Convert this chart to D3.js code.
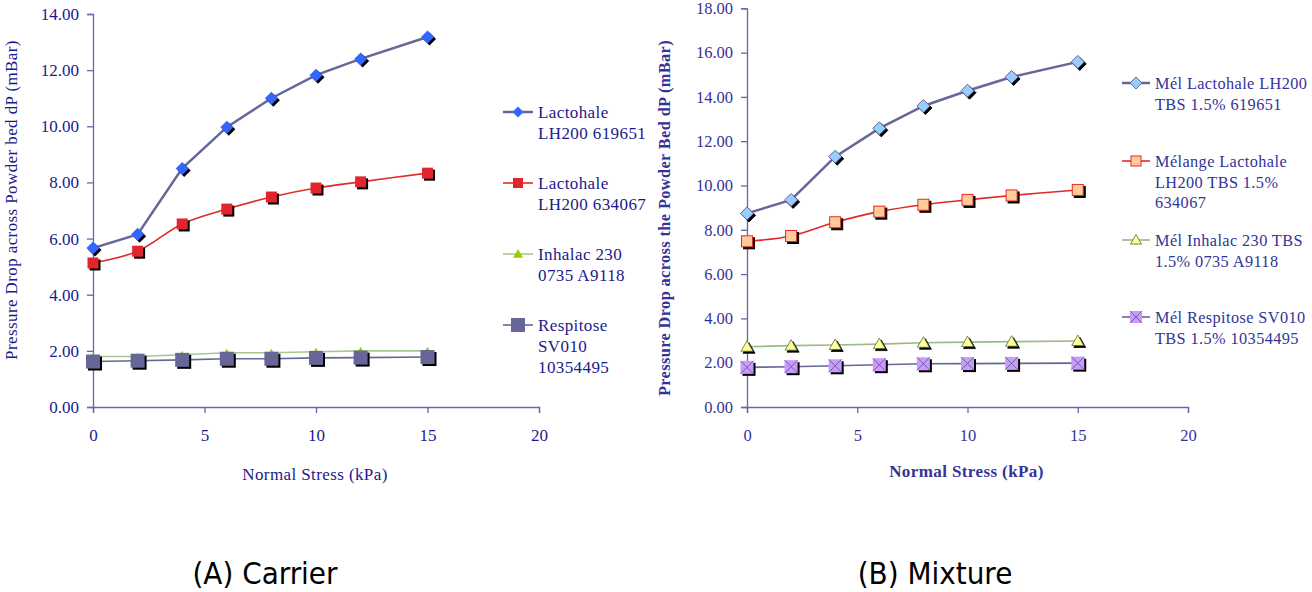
<!DOCTYPE html>
<html><head><meta charset="utf-8">
<script src="https://cdn.jsdelivr.net/npm/d3@7"></script>
<style>body{margin:0;background:#fff}svg{display:block}</style>
</head><body>
<svg id="c" width="1312" height="592"></svg>
<script>
// ---------- data ----------
const stress = [0, 2, 4, 6, 8, 10, 12, 15];
const xTicks = [0, 5, 10, 15, 20];

// (A) Carrier
const carrierNames = [["Lactohale","LH200 619651"],["Lactohale","LH200 634067"],["Inhalac 230","0735 A9118"],["Respitose","SV010","10354495"]];
const lh619651 = [5.66, 6.15, 8.5, 9.97, 11.0, 11.82, 12.4, 13.18];
const lh634067 = [5.13, 5.55, 6.52, 7.05, 7.48, 7.8, 8.02, 8.33];
const inhalac230 = [1.8, 1.8, 1.86, 1.93, 1.93, 1.97, 2.0, 2.0];
const respitose = [1.62, 1.65, 1.68, 1.72, 1.72, 1.75, 1.76, 1.78];
const carrierYTicks = [0, 2, 4, 6, 8, 10, 12, 14];

// (B) Mixture
const mixtureNames = [["Mél Lactohale LH200","TBS 1.5% 619651"],["Mélange Lactohale","LH200 TBS 1.5%","634067"],["Mél Inhalac 230 TBS","1.5% 0735 A9118"],["Mél Respitose SV010","TBS 1.5% 10354495"]];
const melLh619651 = [8.74, 9.35, 11.3, 12.58, 13.59, 14.28, 14.9, 15.58];
const melLh634067 = [7.48, 7.72, 8.34, 8.82, 9.13, 9.35, 9.55, 9.8];
const melInhalac = [2.72, 2.77, 2.8, 2.84, 2.9, 2.93, 2.95, 2.98];
const melRespitose = [1.79, 1.82, 1.86, 1.91, 1.95, 1.96, 1.97, 1.98];
const mixtureYTicks = [0, 2, 4, 6, 8, 10, 12, 14, 16, 18];

const captions = ["(A) Carrier", "(B) Mixture"];

// ---------- drawing ----------
const svg = d3.select("#c");
const serif = "'Liberation Serif','DejaVu Serif',serif";

function marker(g, type, x, y, st) {
  const draw = (dx, dy, shadow) => {
    const fill = shadow ? "#000" : st.fill, stroke = shadow ? "#000" : st.stroke;
    const s = st.size;
    if (type === "diamond") {
      g.append("path").attr("d", `M${x+dx},${y+dy-s}L${x+dx+s},${y+dy}L${x+dx},${y+dy+s}L${x+dx-s},${y+dy}Z`)
        .attr("fill", fill).attr("stroke", stroke).attr("stroke-width", st.sw || 0);
    } else if (type === "square" || type === "xsquare") {
      g.append("rect").attr("x", x+dx-s).attr("y", y+dy-s).attr("width", 2*s).attr("height", 2*s)
        .attr("fill", fill).attr("stroke", stroke).attr("stroke-width", st.sw || 0);
      if (type === "xsquare" && !shadow) {
        g.append("path").attr("d", `M${x-s},${y-s}L${x+s},${y+s}M${x+s},${y-s}L${x-s},${y+s}`)
          .attr("stroke", st.xcol).attr("stroke-width", 1);
      }
    } else if (type === "triangle") {
      g.append("path").attr("d", `M${x+dx},${y+dy-s}L${x+dx+s},${y+dy+s*0.75}L${x+dx-s},${y+dy+s*0.75}Z`)
        .attr("fill", fill).attr("stroke", stroke).attr("stroke-width", st.sw || 0);
    }
  };
  if (st.shadow) draw(2, 2, true);
  draw(0, 0, false);
}

function chart(cfg) {
  const g = svg.append("g");
  const x = d3.scaleLinear().domain([0, 20]).range([cfg.x0, cfg.x1]);
  const y = d3.scaleLinear().domain([0, cfg.ymax]).range([cfg.y0, cfg.y1]);

  // axes
  const ya = g.append("g").attr("transform", `translate(${cfg.x0},0)`)
    .call(d3.axisLeft(y).tickValues(cfg.yTicks).tickFormat(d3.format(".2f")).tickSizeOuter(0).tickSize(6).tickPadding(8));
  const xa = g.append("g").attr("transform", `translate(0,${cfg.y0})`)
    .call(d3.axisBottom(x).tickValues(xTicks).tickSizeOuter(0).tickSize(6).tickPadding(16));
  [ya, xa].forEach(a => {
    a.attr("font-family", serif).attr("font-size", cfg.tickFont);
    a.select(".domain").attr("stroke", cfg.axisCol).attr("stroke-width", 1.3);
    a.selectAll(".tick line").attr("stroke", cfg.axisCol).attr("stroke-width", 1.3);
    a.selectAll(".tick text").attr("fill", cfg.textCol)
      .style("font-family", serif).style("font-size", cfg.tickFont + "px");
  });
  xa.selectAll(".tick line").attr("y1", 0);

  // axis titles
  g.append("text").attr("x", (cfg.x0 + cfg.x1) / 2 - 1).attr("y", cfg.xTitleY).attr("text-anchor", "middle")
    .attr("font-family", serif).attr("font-size", cfg.xTitleFont).attr("font-weight", cfg.bold ? "bold" : "normal")
    .attr("letter-spacing", cfg.ls).attr("fill", cfg.textCol).text("Normal Stress (kPa)");
  g.append("text").attr("transform", `translate(${cfg.yTitleX},${cfg.yTitleC}) rotate(-90)`).attr("text-anchor", "middle")
    .attr("font-family", serif).attr("font-size", cfg.yTitleFont).attr("font-weight", cfg.bold ? "bold" : "normal")
    .attr("letter-spacing", cfg.ls).attr("fill", cfg.textCol).text(cfg.yTitle);

  // series
  cfg.series.forEach(s => {
    const pts = stress.map((d, i) => [x(d), y(s.values[i])]);
    g.append("path").attr("d", d3.line().curve(s.smooth ? d3.curveCatmullRom.alpha(0.5) : d3.curveLinear)(pts))
      .attr("fill", "none").attr("stroke", s.line).attr("stroke-width", s.lw);
  });
  cfg.series.forEach(s => {
    stress.forEach((d, i) => marker(g, s.type, x(d), y(s.values[i]), s.m));
  });

  // legend
  cfg.series.forEach((s, k) => {
    const ly = cfg.legY[k];
    g.append("line").attr("x1", cfg.legX).attr("x2", cfg.legX + cfg.legW).attr("y1", ly).attr("y2", ly)
      .attr("stroke", s.line).attr("stroke-width", s.lw);
    const lm = Object.assign({}, s.m, { shadow: false, size: s.m.lsize || s.m.size });
    marker(g, s.type, cfg.legX + cfg.legW / 2, ly, lm);
    const t = g.append("text").attr("x", cfg.legX + cfg.legW + 5).attr("y", ly + 6)
      .attr("font-family", serif).attr("font-size", cfg.legFont).attr("letter-spacing", cfg.ls).attr("fill", cfg.textCol);
    s.name.forEach((line, j) => t.append("tspan").attr("x", cfg.legX + cfg.legW + 5).attr("dy", j ? cfg.legLH : 0).text(line));
  });
}

chart({
  x0: 93, x1: 539, y0: 407, y1: 14, ymax: 14, yTicks: carrierYTicks,
  axisCol: "#6666aa", textCol: "#1a1a8c", bold: false, ls: 0.4,
  tickFont: 17, xTitleFont: 17, yTitleFont: 17,
  xTitleY: 480, yTitleX: 17, yTitleC: 200,
  yTitle: "Pressure Drop across Powder bed dP (mBar)",
  legX: 503, legW: 30, legY: [112, 183, 254, 325], legFont: 17, legLH: 21,
  series: [
    { name: carrierNames[0], values: lh619651, type: "diamond", line: "#666699", lw: 2.5, smooth: false,
      m: { fill: "#3366ff", stroke: "#3366ff", size: 6.5, lsize: 5.5, shadow: true } },
    { name: carrierNames[1], values: lh634067, type: "square", line: "#e02a2a", lw: 1.6, smooth: true,
      m: { fill: "#e0262c", stroke: "#e0262c", size: 5.5, lsize: 5, shadow: true } },
    { name: carrierNames[2], values: inhalac230, type: "triangle", line: "#a8c890", lw: 1.6, smooth: false,
      m: { fill: "#99cc00", stroke: "#99cc00", size: 4, lsize: 5, shadow: false } },
    { name: carrierNames[3], values: respitose, type: "square", line: "#666699", lw: 1.6, smooth: false,
      m: { fill: "#666699", stroke: "#666699", size: 7, lsize: 7, shadow: true } }
  ]
});

chart({
  x0: 747, x1: 1188, y0: 407, y1: 8.3, ymax: 18, yTicks: mixtureYTicks,
  axisCol: "#6666aa", textCol: "#333399", bold: true, ls: 0.4,
  tickFont: 16.5, xTitleFont: 17, yTitleFont: 16.3,
  xTitleY: 477, yTitleX: 670, yTitleC: 218,
  yTitle: "Pressure Drop across the Powder Bed dP (mBar)",
  legX: 1122, legW: 28, legY: [83, 161, 240, 317], legFont: 16.3, legLH: 20.5,
  series: [
    { name: mixtureNames[0], values: melLh619651, type: "diamond", line: "#666699", lw: 2.5, smooth: false,
      m: { fill: "#99ccff", stroke: "#666699", sw: 1, size: 6.5, lsize: 6, shadow: true } },
    { name: mixtureNames[1], values: melLh634067, type: "square", line: "#e02a2a", lw: 1.6, smooth: true,
      m: { fill: "#ffcc99", stroke: "#e02a2a", sw: 1, size: 5.5, lsize: 5, shadow: true } },
    { name: mixtureNames[2], values: melInhalac, type: "triangle", line: "#99bb88", lw: 1.6, smooth: false,
      m: { fill: "#ffff99", stroke: "#556b2f", sw: 0.8, size: 6, lsize: 5.5, shadow: true } },
    { name: mixtureNames[3], values: melRespitose, type: "xsquare", line: "#666699", lw: 1.6, smooth: false,
      m: { fill: "#cc99ff", stroke: "#cc99ff", xcol: "#666699", sw: 0, size: 6.5, lsize: 6, shadow: true } }
  ]
});

// captions
[[265, captions[0]], [935, captions[1]]].forEach(([cx, t]) => {
  svg.append("text").attr("x", cx).attr("y", 584).attr("text-anchor", "middle")
    .attr("font-family", "'Liberation Sans Narrow','DejaVu Sans Condensed','Open Sans',sans-serif")
    .attr("font-size", 31).attr("fill", "#000").text(t);
});
</script>
</body></html>
